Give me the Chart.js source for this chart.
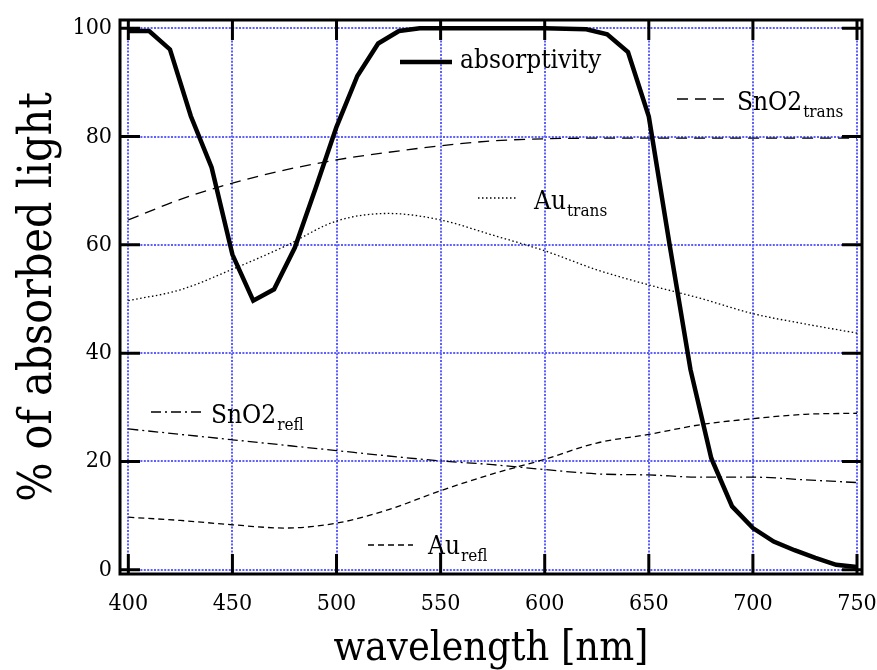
<!DOCTYPE html>
<html><head><meta charset="utf-8">
<script src="https://cdn.jsdelivr.net/npm/chart.js@4/dist/chart.umd.min.js"></script>
<style>html,body{margin:0;padding:0;background:#fff}#wrap{width:877px;height:670px}</style>
</head><body><div id="wrap"><canvas id="c" width="877" height="670"></canvas></div>
<script>
// ---- data ----
const wavelengthsAbs = [400,410,420,430,440,450,460,470,480,490,500,510,520,530,540,550,560,570,580,590,600,610,620,630,640,650,660,670,680,690,700,710,720,730,740,750];
const absorptivity = [99.5,99.5,96.1,83.8,74.3,58.2,49.7,51.8,59.5,70.5,81.8,91.2,97.2,99.5,100,100,100,100,100,100,100,99.9,99.8,98.9,95.6,83.7,60,37,20.6,11.7,7.7,5.2,3.6,2.2,0.9,0.5];
const wavelengths = [400,425,450,475,500,525,550,575,600,625,650,675,700,725,750];
const sno2Trans = [64.6,68.4,71.4,73.8,75.7,77.1,78.3,79.2,79.6,79.7,79.7,79.7,79.7,79.7,79.7];
const auTrans   = [49.7,51.7,55.5,59.7,64.4,65.8,64.6,61.8,58.9,55.4,52.6,50.1,47.3,45.4,43.7];
const sno2Refl  = [26.0,25.0,24.0,23.0,22.0,21.0,20.1,19.4,18.5,17.7,17.5,17.1,17.1,16.6,16.1];
const auRefl    = [9.7,9.1,8.3,7.7,8.6,11.1,14.6,17.7,20.4,23.4,25.0,26.8,27.9,28.7,28.9];
const xTickValues = [400,450,500,550,600,650,700,750];
const yTickValues = [0,20,40,60,80,100];
const seriesNames = [['absorptivity',''],['SnO2','trans'],['Au','trans'],['SnO2','refl'],['Au','refl']];
const xTitle = 'wavelength [nm]';
const yTitle = '% of absorbed light';

// ---- styles ----
const serif = '"DejaVu Serif Condensed", "DejaVu Serif", serif';
const gridColor = 'rgb(95,95,255)';
const toXY = (xs, ys) => xs.map((x, i) => ({x, y: ys[i]}));

const thin = {borderColor:'#000', borderWidth:1.3, pointRadius:0, cubicInterpolationMode:'monotone', fill:false};
const datasets = [
  {label:'absorptivity', data: toXY(wavelengthsAbs, absorptivity), borderColor:'#000', borderWidth:4.5, pointRadius:0, tension:0, fill:false},
  Object.assign({label:'SnO2 trans', data: toXY(wavelengths, sno2Trans), borderDash:[11,7]}, thin),
  Object.assign({label:'Au trans', data: toXY(wavelengths, auTrans), borderDash:[1.5,2.5]}, thin),
  Object.assign({label:'SnO2 refl', data: toXY(wavelengths, sno2Refl), borderDash:[10,4,2,4]}, thin),
  Object.assign({label:'Au refl', data: toXY(wavelengths, auRefl), borderDash:[6,4]}, thin)
];

const framePlugin = {
  id:'frame',
  afterDatasetsDraw(chart){
    const {ctx, chartArea:a, scales:{x, y}} = chart;
    ctx.save();
    ctx.strokeStyle = '#000';
    ctx.lineWidth = 3;
    ctx.setLineDash([]);
    const L = 20;
    ctx.beginPath();
    x.ticks.forEach(t => {
      const px = x.getPixelForValue(t.value);
      ctx.moveTo(px, a.bottom); ctx.lineTo(px, a.bottom - L);
      ctx.moveTo(px, a.top); ctx.lineTo(px, a.top + L);
    });
    y.ticks.forEach(t => {
      const py = y.getPixelForValue(t.value);
      ctx.moveTo(a.left, py); ctx.lineTo(a.left + L, py);
      ctx.moveTo(a.right, py); ctx.lineTo(a.right - L, py);
    });
    ctx.stroke();
    ctx.strokeRect(a.left, a.top, a.right - a.left, a.bottom - a.top);
    ctx.restore();
  }
};

// legend placement (pixel offsets from the chart area's top-left corner)
const legendLayout = [
  {lx:280, ly:42,  len:52, tx:340, base:48},
  {lx:557, ly:79,  len:49, tx:617, base:90},
  {lx:358, ly:178, len:40, tx:414, base:189},
  {lx:31,  ly:392, len:50, tx:91,  base:403},
  {lx:248, ly:525, len:45, tx:308, base:534}
];

const legendPlugin = {
  id:'textLegend',
  afterDraw(chart){
    const {ctx, chartArea:a} = chart;
    ctx.save();
    legendLayout.forEach((p, i) => {
      const ds = chart.data.datasets[i];
      ctx.strokeStyle = ds.borderColor;
      ctx.lineWidth = ds.borderWidth;
      ctx.setLineDash(ds.borderDash || []);
      ctx.beginPath();
      ctx.moveTo(a.left + p.lx, a.top + p.ly);
      ctx.lineTo(a.left + p.lx + p.len, a.top + p.ly);
      ctx.stroke();
      ctx.setLineDash([]);
      ctx.fillStyle = '#000';
      ctx.textBaseline = 'alphabetic';
      ctx.textAlign = 'left';
      ctx.font = '26px ' + serif;
      const [main, sub] = seriesNames[i];
      ctx.fillText(main, a.left + p.tx, a.top + p.base);
      if (sub) {
        const w = ctx.measureText(main).width;
        ctx.font = '17px ' + serif;
        ctx.fillText(sub, a.left + p.tx + w + 1, a.top + p.base + 7);
      }
    });
    ctx.restore();
  }
};

new Chart(document.getElementById('c').getContext('2d'), {
  type:'line',
  data:{datasets},
  options:{
    responsive:false, animation:false, devicePixelRatio:1,
    layout:{padding:{left:0, top:20, right:15, bottom:0}},
    plugins:{legend:{display:false}, tooltip:{enabled:false}},
    scales:{
      x:{
        type:'linear', min:396, max:752.4,
        afterBuildTicks:(s) => { s.ticks = xTickValues.map(v => ({value:v})); },
        afterFit:(s) => { s.height = 96; s.paddingLeft = 0; s.paddingRight = 0; },
        grid:{color:gridColor, lineWidth:2, drawTicks:false},
        border:{display:false, dash:[2,1.4]},
        ticks:{font:{family:serif, size:23}, color:'#000', padding:16, maxRotation:0, autoSkip:false, callback:(v) => String(v)},
        title:{display:true, text:xTitle, color:'#000', font:{family:serif, size:41, lineHeight:1}, padding:0}
      },
      y:{
        type:'linear', min:-0.79, max:101.53,
        afterBuildTicks:(s) => { s.ticks = yTickValues.map(v => ({value:v})); },
        afterFit:(s) => { s.width = 120; s.paddingTop = 0; s.paddingBottom = 0; },
        grid:{color:gridColor, lineWidth:2, drawTicks:false},
        border:{display:false, dash:[2,1.4]},
        ticks:{font:{family:serif, size:23}, color:'#000', padding:8, autoSkip:false, callback:(v) => String(v)},
        title:{display:true, text:yTitle, color:'#000', font:{family:serif, size:46, lineHeight:1}, padding:{top:16, bottom:0}}
      }
    }
  },
  plugins:[framePlugin, legendPlugin]
});
</script>
</body></html>
